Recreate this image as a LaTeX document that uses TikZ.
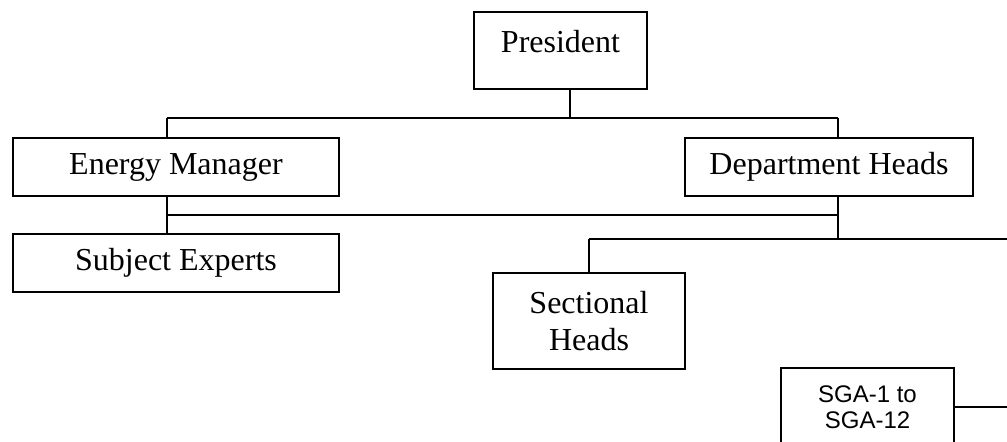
\documentclass[tikz,border=0pt]{standalone}
\usepackage{fontspec}
\setmainfont{Liberation Serif}
\newfontfamily\arialfont{Liberation Sans}
\begin{document}
\begin{tikzpicture}[x=0.75pt,y=-0.75pt,
  box/.style={draw, line width=1.2pt, inner sep=0pt, align=center, font=\fontsize{24}{27.2}\selectfont},
  sgabox/.style={box, font=\arialfont\fontsize{18}{19.5}\selectfont},
  bus/.style={line width=1.5pt},
  drop/.style={line width=1pt}]
\useasboundingbox (0,0) rectangle (1007,442);
% boxes
\node[box, minimum width=129.75pt, text height=30.75pt, text depth=27pt] (pres) at (560.5,50.5) {President};
\node[box, minimum width=244.5pt, minimum height=43.5pt] (em) at (176,167) {Energy Manager};
\node[box, minimum width=216pt, minimum height=43.5pt] (dh) at (829,167) {Department Heads};
\node[box, minimum width=244.5pt, minimum height=43.5pt] (se) at (176,263) {Subject Experts};
\node[box, minimum width=144pt, minimum height=72pt] (sh) at (589,321) {Sectional\\Heads};
\node[sgabox, minimum width=129.75pt, minimum height=58.5pt] (sga) at (867.5,407) {SGA-1 to\\SGA-12};
% bus coordinates
\coordinate (b1L) at (167,118);
\coordinate (b1M) at (570,118);
\coordinate (b1R) at (838,118);
\coordinate (b2L) at (167,215);
\coordinate (b2R) at (838,215);
\coordinate (b3L) at (589,239);
\coordinate (b3M) at (838,239);
\coordinate (b3R) at (1007,239);
\coordinate (sgaR) at (1007,407);
% connectors
\draw[drop] (pres.south -| b1M) -- (b1M);
\draw[bus] (b1L) -- (b1R);
\draw[drop] (b1L) -- (b1L |- em.north);
\draw[drop] (b1R) -- (b1R |- dh.north);
\draw[drop] (b2L |- em.south) -- (b2L |- se.north);
\draw[bus] (b2L) -- (b2R);
\draw[drop] (b2R |- dh.south) -- (b3M);
\draw[bus] (b3L) -- (b3R);
\draw[drop] (b3L) -- (sh.north);
\draw[bus] (sga.east) -- (sgaR);
\end{tikzpicture}
\end{document}
